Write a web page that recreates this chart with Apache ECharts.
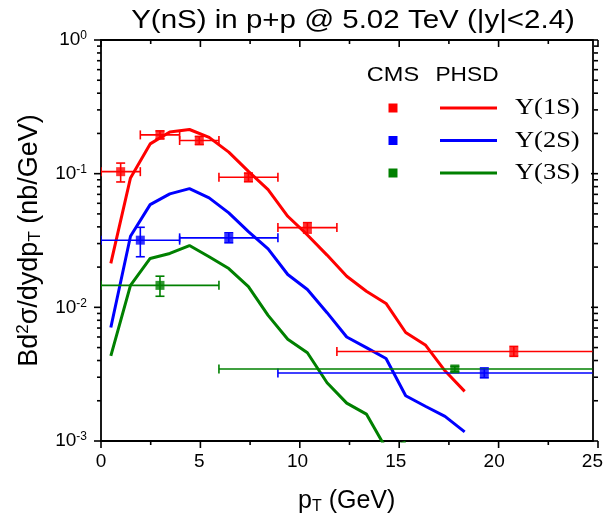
<!DOCTYPE html>
<html>
<head>
<meta charset="utf-8">
<script src="https://cdn.jsdelivr.net/npm/echarts@6/dist/echarts.min.js"></script>
<style>
  html, body { margin: 0; padding: 0; background: #fff; }
  #chart { width: 606px; height: 520px; }
</style>
</head>
<body>
<div id="chart"></div>
<script>
// PHSD transport-model curves (pT bin centres in GeV, cross sections in nb/GeV)
const ptModel = [0.5, 1.5, 2.5, 3.5, 4.5, 5.5, 6.5, 7.5, 8.5, 9.5, 10.5, 11.5, 12.5, 13.5, 14.5, 15.5, 16.5, 17.5, 18.5];
const phsd1S = [0.0213, 0.093, 0.167, 0.205, 0.214, 0.187, 0.145, 0.104, 0.076, 0.048, 0.0348, 0.0246, 0.0171, 0.0132, 0.0107, 0.00648, 0.00523, 0.00335, 0.00235];
const phsd2S = [0.00706, 0.034, 0.0587, 0.0706, 0.0773, 0.0659, 0.0509, 0.0369, 0.0274, 0.0176, 0.0136, 0.00912, 0.0060, 0.0050, 0.00414, 0.00218, 0.00182, 0.00153, 0.00117];
const phsd3S = [0.00433, 0.0146, 0.0232, 0.0253, 0.029, 0.0239, 0.0195, 0.0143, 0.0087, 0.00577, 0.00457, 0.00273, 0.00192, 0.00159, 0.00088, 0.00098];

// CMS measurements: bin centre, value, bin edges, and vertical error range
const cms1S_pt   = [1, 3, 5, 7.5, 10.5, 21];
const cms1S_val  = [0.1035, 0.195, 0.177, 0.094, 0.0395, 0.00467];
const cms1S_ptLo = [0, 2, 4, 6, 9, 12];
const cms1S_ptHi = [2, 4, 6, 9, 12, 30];
const cms1S_lo   = [0.0867, 0.182, 0.165, 0.087, 0.036, 0.0043];
const cms1S_hi   = [0.120, 0.209, 0.190, 0.101, 0.043, 0.0051];

const cms2S_pt   = [2, 6.5, 19.5];
const cms2S_val  = [0.0318, 0.0331, 0.00323];
const cms2S_ptLo = [0, 4, 9];
const cms2S_ptHi = [4, 9, 30];
const cms2S_lo   = [0.0239, 0.0304, 0.00297];
const cms2S_hi   = [0.0397, 0.0361, 0.00352];

const cms3S_pt   = [3, 18];
const cms3S_val  = [0.0146, 0.00346];
const cms3S_ptLo = [0, 6];
const cms3S_ptHi = [6, 30];
const cms3S_lo   = [0.0121, 0.00330];
const cms3S_hi   = [0.0171, 0.00362];

// Axis ranges and ticks
const X_MIN = 0, X_MAX = 25;
const Y_MIN = 0.001, Y_MAX = 1;
const xMajor = [0, 5, 10, 15, 20, 25];
const xMinor = [2.5, 7.5, 12.5, 17.5, 22.5];
const yMajor = [0.001, 0.01, 0.1, 1];
const yMinor = [];
for (let d = 0.001; d < 1; d *= 10) {
  for (let k = 2; k <= 9; k++) yMinor.push(+(k * d).toPrecision(3));
}

const RED = '#ff0000', BLUE = '#0000ff', GREEN = '#008000';
const SANS = '"Liberation Sans", Arial, sans-serif';
const SERIF = '"Liberation Serif", "Times New Roman", serif';
const W = 606, H = 520;
const GRID = { left: 101, right: 8, top: 40, bottom: 79 };
const MAJOR_LEN = 7, MINOR_LEN = 4, TICK_W = 1.6;

function zipCurve(xs, ys) { return ys.map((v, i) => [xs[i], v]); }
function zipPoints(pt, val, xlo, xhi, lo, hi) {
  return pt.map((p, i) => [p, val[i], xlo[i], xhi[i], lo[i], hi[i]]);
}

// Error bars with end caps, clipped to the plotting area
function errorBars(name, color, data) {
  return {
    name: name,
    type: 'custom',
    clip: true,
    z: 3,
    data: data,
    encode: { x: 0, y: 1 },
    renderItem: function (params, api) {
      const cs = params.coordSys;
      const xMax = cs.x + cs.width, xMin = cs.x;
      const x = api.value(0), y = api.value(1);
      const c = api.coord([x, y]);
      let left = api.coord([api.value(2), y])[0];
      let right = api.coord([api.value(3), y])[0];
      const lo = api.coord([x, api.value(4)])[1];
      const hi = api.coord([x, api.value(5)])[1];
      const cap = 4.5;
      const style = { stroke: color, lineWidth: 1.6 };
      const kids = [];
      const rClip = right > xMax, lClip = left < xMin;
      left = Math.max(left, xMin); right = Math.min(right, xMax);
      kids.push({ type: 'line', shape: { x1: left, y1: c[1], x2: right, y2: c[1] }, style: style });
      if (!lClip) kids.push({ type: 'line', shape: { x1: left, y1: c[1] - cap, x2: left, y2: c[1] + cap }, style: style });
      if (!rClip) kids.push({ type: 'line', shape: { x1: right, y1: c[1] - cap, x2: right, y2: c[1] + cap }, style: style });
      kids.push({ type: 'line', shape: { x1: c[0], y1: lo, x2: c[0], y2: hi }, style: style });
      kids.push({ type: 'line', shape: { x1: c[0] - cap, y1: lo, x2: c[0] + cap, y2: lo }, style: style });
      kids.push({ type: 'line', shape: { x1: c[0] - cap, y1: hi, x2: c[0] + cap, y2: hi }, style: style });
      return { type: 'group', children: kids };
    }
  };
}

function markers(name, color, pt, val) {
  return {
    name: name, type: 'scatter', symbol: 'rect', symbolSize: 9, z: 4,
    itemStyle: { color: color }, data: zipCurve(pt, val)
  };
}

function curve(name, color, ys) {
  return {
    name: name, type: 'line', showSymbol: false, symbol: 'none', clip: true, z: 2,
    lineStyle: { color: color, width: 3 }, data: zipCurve(ptModel, ys)
  };
}

const axisBlack = { color: '#000', width: 1.8 };

function logAxis(pos, withLabel) {
  return {
    type: 'log', logBase: 10, min: Y_MIN, max: Y_MAX, position: pos,
    axisLine: { show: true, onZero: false, lineStyle: axisBlack },
    axisTick: { show: false },
    minorTick: { show: false },
    splitLine: { show: false },
    axisLabel: withLabel ? {
      show: true, margin: 14, customValues: yMajor,
      formatter: function (v) { return '{b|10}{s|' + Math.round(Math.log10(v)) + '}'; },
      rich: {
        b: { fontFamily: SANS, fontSize: 19, color: '#000' },
        s: { fontFamily: SANS, fontSize: 12, color: '#000', verticalAlign: 'top', padding: [0, 0, 8, 0] }
      }
    } : { show: false }
  };
}

// Frame ticks as thin filled bars: bottom/left ticks point outward,
// top/right ticks point into the frame.
const frameL = GRID.left, frameR = W - GRID.right, frameT = GRID.top, frameB = H - GRID.bottom;
const tickX = v => frameL + (v - X_MIN) / (X_MAX - X_MIN) * (frameR - frameL);
const tickY = v => frameB - (Math.log10(v) - Math.log10(Y_MIN)) / (Math.log10(Y_MAX) - Math.log10(Y_MIN)) * (frameB - frameT);
const tickGraphics = [];
function tickRect(x, y, w, h) {
  return { type: 'rect', shape: { x: x, y: y, width: w, height: h }, style: { fill: '#000' } };
}
function addXTicks(values, len) {
  values.forEach(v => {
    const x = tickX(v) - TICK_W / 2;
    tickGraphics.push(tickRect(x, frameB, TICK_W, len));
    tickGraphics.push(tickRect(x, frameT, TICK_W, len));
  });
}
function addYTicks(values, len) {
  values.forEach(v => {
    const y = tickY(v) - TICK_W / 2;
    tickGraphics.push(tickRect(frameL - len, y, len, TICK_W));
    tickGraphics.push(tickRect(frameR - len, y, len, TICK_W));
  });
}
addXTicks(xMajor, MAJOR_LEN);
addXTicks(xMinor, MINOR_LEN);
addYTicks(yMajor, MAJOR_LEN);
addYTicks(yMinor, MINOR_LEN);

// Title and legend block: CMS markers and PHSD line samples
const headerGraphics = [
  { type: 'text', x: 353, y: 21, scaleX: 1.18, style: { text: 'Υ(nS) in p+p @ 5.02 TeV (|y|<2.4)', font: '25px ' + SANS, fill: '#000', align: 'center', verticalAlign: 'middle' } },
  { type: 'text', x: 393, y: 75, scaleX: 1.12, style: { text: 'CMS', font: '21px ' + SANS, fill: '#000', align: 'center', verticalAlign: 'middle' } },
  { type: 'text', x: 467, y: 75, scaleX: 1.08, style: { text: 'PHSD', font: '21px ' + SANS, fill: '#000', align: 'center', verticalAlign: 'middle' } },
  { type: 'rect', shape: { x: 388.5, y: 103.5, width: 9, height: 9 }, style: { fill: RED } },
  { type: 'rect', shape: { x: 388.5, y: 136, width: 9, height: 9 }, style: { fill: BLUE } },
  { type: 'rect', shape: { x: 388.5, y: 168.5, width: 9, height: 9 }, style: { fill: GREEN } },
  { type: 'line', shape: { x1: 440, y1: 108, x2: 497, y2: 108 }, style: { stroke: RED, lineWidth: 3 } },
  { type: 'line', shape: { x1: 440, y1: 140.5, x2: 497, y2: 140.5 }, style: { stroke: BLUE, lineWidth: 3 } },
  { type: 'line', shape: { x1: 440, y1: 173, x2: 497, y2: 173 }, style: { stroke: GREEN, lineWidth: 3 } },
  { type: 'text', x: 515, y: 108, scaleX: 1.15, style: { text: 'Υ(1S)', font: '23px ' + SERIF, fill: '#000', align: 'left', verticalAlign: 'middle' } },
  { type: 'text', x: 515, y: 140.5, scaleX: 1.15, style: { text: 'Υ(2S)', font: '23px ' + SERIF, fill: '#000', align: 'left', verticalAlign: 'middle' } },
  { type: 'text', x: 515, y: 173, scaleX: 1.15, style: { text: 'Υ(3S)', font: '23px ' + SERIF, fill: '#000', align: 'left', verticalAlign: 'middle' } }
];

const chart = echarts.init(document.getElementById('chart'), null, { renderer: 'canvas', width: W, height: H });

chart.setOption({
  animation: false,
  backgroundColor: '#fff',
  grid: { left: GRID.left, right: GRID.right, top: GRID.top, bottom: GRID.bottom, containLabel: false },
  xAxis: [
    {
      type: 'value', min: X_MIN, max: X_MAX, interval: 5, position: 'bottom',
      axisLine: { show: true, onZero: false, lineStyle: axisBlack },
      axisTick: { show: false },
      splitLine: { show: false },
      axisLabel: { show: true, margin: 11, fontFamily: SANS, fontSize: 19, color: '#000', customValues: xMajor },
      name: '{a|p}{sub|T}{a| (GeV)}',
      nameLocation: 'middle', nameGap: 46,
      nameTextStyle: {
        rich: {
          a: { fontFamily: SANS, fontSize: 25, color: '#000' },
          sub: { fontFamily: SANS, fontSize: 16, color: '#000', verticalAlign: 'bottom', padding: [12, 0, 0, 0] }
        }
      }
    },
    {
      type: 'value', min: X_MIN, max: X_MAX, interval: 5, position: 'top',
      axisLine: { show: true, onZero: false, lineStyle: axisBlack },
      axisTick: { show: false },
      splitLine: { show: false },
      axisLabel: { show: false }
    }
  ],
  yAxis: [
    Object.assign(logAxis('left', true), {
      name: '{a|Bd}{sup|2}{a|σ/dydp}{sub|T}{a| (nb/GeV)}',
      nameLocation: 'middle', nameGap: 57, nameRotate: 90,
      nameTextStyle: {
        rich: {
          a: { fontFamily: SANS, fontSize: 27, color: '#000' },
          sup: { fontFamily: SANS, fontSize: 17, color: '#000', verticalAlign: 'top', padding: [0, 0, 12, 0] },
          sub: { fontFamily: SANS, fontSize: 17, color: '#000', verticalAlign: 'bottom', padding: [12, 0, 0, 0] }
        }
      }
    }),
    logAxis('right', false)
  ],
  graphic: { elements: headerGraphics.concat(tickGraphics) },
  series: [
    curve('PHSD Υ(1S)', RED, phsd1S),
    curve('PHSD Υ(2S)', BLUE, phsd2S),
    curve('PHSD Υ(3S)', GREEN, phsd3S),
    errorBars('CMS Υ(1S) errors', RED, zipPoints(cms1S_pt, cms1S_val, cms1S_ptLo, cms1S_ptHi, cms1S_lo, cms1S_hi)),
    errorBars('CMS Υ(2S) errors', BLUE, zipPoints(cms2S_pt, cms2S_val, cms2S_ptLo, cms2S_ptHi, cms2S_lo, cms2S_hi)),
    errorBars('CMS Υ(3S) errors', GREEN, zipPoints(cms3S_pt, cms3S_val, cms3S_ptLo, cms3S_ptHi, cms3S_lo, cms3S_hi)),
    markers('CMS Υ(1S)', RED, cms1S_pt, cms1S_val),
    markers('CMS Υ(2S)', BLUE, cms2S_pt, cms2S_val),
    markers('CMS Υ(3S)', GREEN, cms3S_pt, cms3S_val)
  ]
});
</script>
</body>
</html>
